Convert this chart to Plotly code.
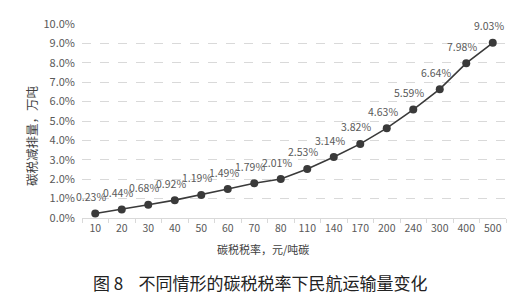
import plotly.graph_objects as go

categories = ["10", "20", "30", "40", "50", "60", "70", "80",
              "110", "140", "170", "200", "240", "300", "400", "500"]
values = [0.23, 0.44, 0.68, 0.92, 1.19, 1.49, 1.79, 2.01,
          2.53, 3.14, 3.82, 4.63, 5.59, 6.64, 7.98, 9.03]
y_ticks = [0, 1, 2, 3, 4, 5, 6, 7, 8, 9, 10]
y_tick_labels = ["%.1f%%" % v for v in y_ticks]
x_title = "碳税税率，元/吨碳"
y_title = "碳税减排量，万吨"
caption = "图 8    不同情形的碳税税率下民航运输量变化"

FONT = "Noto Sans CJK SC"

fig = go.Figure()
fig.add_trace(go.Scatter(
    x=categories, y=values, mode="lines+markers",
    line=dict(color="#3a3a3a", width=1.6),
    marker=dict(color="#3a3a3a", size=8),
    hoverinfo="skip",
))

annotations = []
for i, v in enumerate(values):
    annotations.append(dict(
        x=i, y=v, xref="x", yref="y", text="%.2f%%" % v,
        showarrow=False, xshift=-4, yshift=17,
        font=dict(family=FONT, size=10.5, color="#595959"),
    ))

annotations.append(dict(
    x=-0.118, y=0.428, xref="paper", yref="paper", text=y_title,
    textangle=-90, showarrow=False, xanchor="center", yanchor="middle",
    font=dict(family=FONT, size=12.5, color="#404040"),
))
annotations.append(dict(
    x=0.427, y=-0.16, xref="paper", yref="paper", text=x_title,
    showarrow=False, xanchor="center", yanchor="middle",
    font=dict(family=FONT, size=11, color="#404040"),
))
annotations.append(dict(
    x=0.42, y=-0.33, xref="paper", yref="paper", text=caption,
    showarrow=False, xanchor="center", yanchor="middle",
    font=dict(family=FONT, size=17, color="#222222"),
))

fig.update_layout(
    width=528, height=298,
    margin=dict(l=82, r=22, t=24, b=80),
    paper_bgcolor="white", plot_bgcolor="white",
    showlegend=False,
    font=dict(family=FONT, size=10, color="#595959"),
    annotations=annotations,
    xaxis=dict(
        type="category", showgrid=False, zeroline=False,
        showline=True, linecolor="#d9d9d9", linewidth=1,
        ticks="outside", tickson="boundaries", ticklen=4, tickcolor="#d9d9d9",
        tickfont=dict(family=FONT, size=10.5, color="#595959"),
        tickangle=0,
        range=[-0.5, len(categories) - 0.5],
    ),
    yaxis=dict(
        range=[0, 10], tickvals=y_ticks, ticktext=y_tick_labels,
        showgrid=True, gridcolor="#d9d9d9", griddash="dash", gridwidth=1,
        zeroline=False, showline=False,
        tickfont=dict(family=FONT, size=11, color="#595959"),
        ticks="", ticklabelstandoff=6,
    ),
)

fig.write_html("out.html")
